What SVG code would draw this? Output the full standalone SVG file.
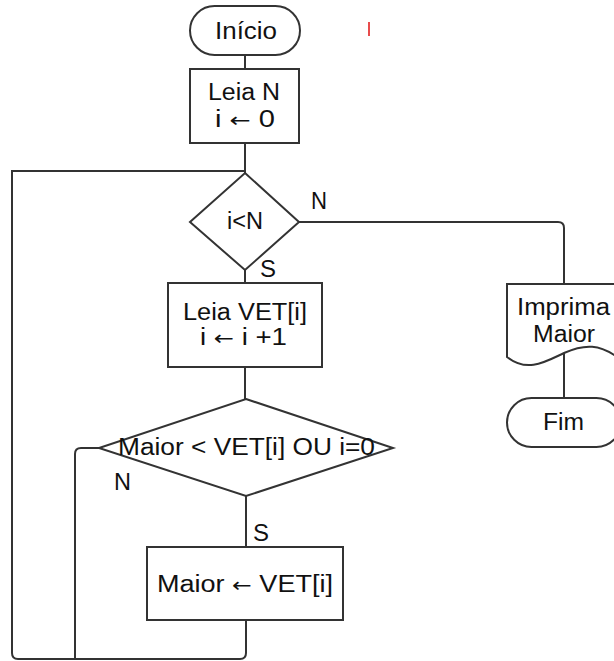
<svg xmlns="http://www.w3.org/2000/svg" width="614" height="661" viewBox="0 0 614 661">
<style>
.sh{fill:#fff;stroke:#333;stroke-width:2}
.ln{fill:none;stroke:#333;stroke-width:2}
text{font-family:"Liberation Sans",Arial,sans-serif;font-size:23px;fill:#111}
.ar{font-family:"DejaVu Sans",sans-serif;font-size:20px}
</style>
<rect width="614" height="661" fill="#fff"/>
<line x1="369" y1="22" x2="369" y2="36" stroke="#e01010" stroke-width="1.5"/>
<g id="connectors">
<path class="ln" d="M245,55 V69"/>
<path class="ln" d="M245,143 V173"/>
<path class="ln" d="M245,270 V283"/>
<path class="ln" d="M245,367 V399"/>
<path class="ln" d="M246,496 V547"/>
<path class="ln" d="M246,620 V653 Q246,659 240,659 H18 Q12,659 12,653 V171 H245"/>
<path class="ln" d="M99,448 H81 Q75,448 75,454 V659"/>
<path class="ln" d="M299,222 H558 Q564,222 564,228 V284"/>
<path class="ln" d="M564,353 V398"/>
<text x="311" y="209" textLength="16" lengthAdjust="spacingAndGlyphs">N</text>
<text x="260" y="277" textLength="16" lengthAdjust="spacingAndGlyphs">S</text>
<text x="114" y="490" textLength="17" lengthAdjust="spacingAndGlyphs">N</text>
<text x="253" y="541" textLength="16" lengthAdjust="spacingAndGlyphs">S</text>
</g>
<g id="inicio">
<rect class="sh" x="190" y="6" width="110" height="49" rx="24.5"/>
<text x="215" y="39" textLength="62" lengthAdjust="spacingAndGlyphs">Início</text>
</g>
<g id="leiaN">
<rect class="sh" x="190" y="69" width="109" height="74"/>
<text x="208" y="100" textLength="72" lengthAdjust="spacingAndGlyphs">Leia N</text>
<text x="215" y="127" textLength="60" lengthAdjust="spacingAndGlyphs">i <tspan class="ar">←</tspan> 0</text>
</g>
<g id="cond1">
<polygon class="sh" points="245,173 299,222 245,270 190,222"/>
<text x="227" y="229" textLength="36" lengthAdjust="spacingAndGlyphs">i&lt;N</text>
</g>
<g id="leiaVet">
<rect class="sh" x="168" y="283" width="154" height="84"/>
<text x="183" y="320" textLength="124" lengthAdjust="spacingAndGlyphs">Leia VET[i]</text>
<text x="200" y="345" textLength="87" lengthAdjust="spacingAndGlyphs">i <tspan class="ar">←</tspan> i +1</text>
</g>
<g id="cond2">
<polygon class="sh" points="246,399 393,448 246,496 99,448"/>
<text x="118" y="455" textLength="257" lengthAdjust="spacingAndGlyphs">Maior &lt; VET[i] OU i=0</text>
</g>
<g id="atrib">
<rect class="sh" x="147" y="547" width="196" height="73"/>
<text x="157" y="592" textLength="176" lengthAdjust="spacingAndGlyphs">Maior <tspan class="ar">←</tspan> VET[i]</text>
</g>
<g id="imprima">
<path class="sh" d="M507,284 H621 V360 C600,343 584,344 564,353 C545,362 527,373 507,357 Z"/>
<text x="517" y="315" textLength="93" lengthAdjust="spacingAndGlyphs">Imprima</text>
<text x="533" y="342" textLength="62" lengthAdjust="spacingAndGlyphs">Maior</text>
</g>
<g id="fim">
<rect class="sh" x="507" y="398" width="114" height="49" rx="24.5"/>
<text x="543" y="430" textLength="41" lengthAdjust="spacingAndGlyphs">Fim</text>
</g>
</svg>
